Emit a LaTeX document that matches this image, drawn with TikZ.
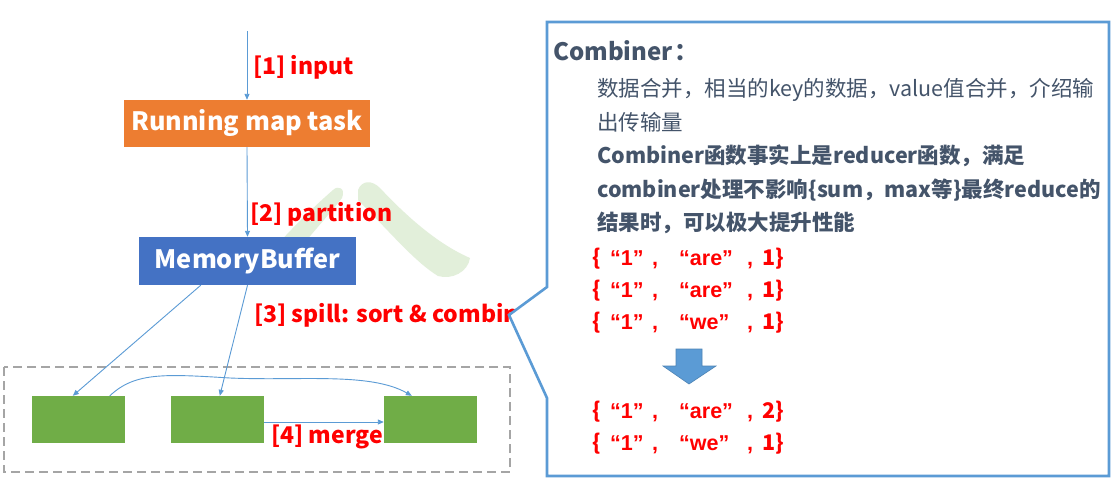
\documentclass[tikz,border=0pt]{standalone}
\usepackage{fontspec}
\setmainfont{Noto Sans CJK SC}
\newfontfamily\latf{Liberation Sans}
\usetikzlibrary{arrows.meta}
\definecolor{cblue}{HTML}{5B9BD5}
\definecolor{corange}{HTML}{ED7D31}
\definecolor{cdblue}{HTML}{4472C4}
\definecolor{cgreen}{HTML}{70AD47}
\definecolor{cwater}{HTML}{E2EFDA}
\definecolor{cgray}{HTML}{A5A5A5}
\definecolor{cslate}{HTML}{44546A}
\definecolor{cred}{HTML}{FF0000}
\newcommand{\myrow}[2]{\makebox[18pt][l]{\{}\makebox[42pt][l]{{\latf\bfseries “1”}}\makebox[27pt][l]{{\latf\bfseries ,}}\makebox[68pt][l]{{\latf\bfseries “#1”}}\makebox[15pt][l]{{\latf\bfseries ,}}#2\}}
\begin{document}
\begin{tikzpicture}[x=1pt,y=-1pt,
  arr/.style={draw=cblue, line width=0.9pt, -{Triangle[length=6pt,width=5pt]}},
  lbl/.style={text=cred, font=\fontsize{23}{27}\selectfont\bfseries, anchor=base west, inner sep=0pt},
  bigbox/.style={inner sep=0pt, text=white, font=\fontsize{25.3}{30}\selectfont\bfseries},
  gbox/.style={fill=cgreen, inner sep=0pt, minimum width=93pt, minimum height=47pt},
  ctext/.style={text=cslate, font=\fontsize{21.5}{26}\selectfont, anchor=base west, inner sep=0pt},
  cbold/.style={ctext, font=\fontsize{21.5}{26}\selectfont\bfseries},
  rtext/.style={text=cred, font=\fontsize{21.5}{26}\selectfont\bfseries, anchor=base west, inner sep=0pt},
  callout/.style={draw=cblue, fill=white, line width=2.6pt, line join=miter}
]
\useasboundingbox (0,0) rectangle (1117,491);
\fill[white] (0,0) rectangle (1117,491);

% watermark
\fill[cwater] (333,190) .. controls (338,185) and (346,188) .. (342,198)
  .. controls (325,220) and (305,240) .. (290,262) -- (262,262)
  .. controls (285,235) and (310,210) .. cycle;
\fill[cwater] (358,190) .. controls (362,180) and (372,180) .. (380,188)
  .. controls (410,220) and (440,245) .. (470,258)
  .. controls (468,272) and (452,280) .. (438,276)
  .. controls (415,262) and (390,232) .. (358,200) -- cycle;

% left diagram
\node[bigbox, fill=corange, minimum width=246pt, minimum height=47pt] (map) at (247,123.5) {Running map task};
\node[bigbox, fill=cdblue, minimum width=217pt, minimum height=48pt] (mb) at (247.5,261) {MemoryBuffer};
\draw[cgray, line width=1.5pt, dash pattern=on 9pt off 5pt] (4,367) rectangle (510,472);
\node[gbox] (g1) at (78.5,419.5) {};
\node[gbox] (g2) at (217.5,419.5) {};
\node[gbox] (g3) at (430.5,419.5) {};

\coordinate (in) at (247,31);
\draw[arr] (in) -- (map.north);
\draw[arr] (map.south) -- (mb.north);
\draw[arr] ([xshift=62pt]mb.south west) -- ([xshift=41pt]g1.north west);
\draw[arr] (mb.south) -- ([xshift=49pt]g2.north west);
\draw[arr] ([xshift=78pt]g1.north west) .. controls (135,372) and (165,374) .. (230,378)
  .. controls (300,381) and (370,372) .. ([xshift=28pt]g3.north west);
\draw[arr] ([yshift=-2.5pt]g2.east) -- ([yshift=-2.5pt]g3.west);

\node[lbl] (l1) at (253,74) {[1] input};
\node[lbl] (l2) at (250,221) {[2] partition};
\node[lbl] (l3) at (254,322) {[3] spill: sort \& combine};
\node[lbl] (l4) at (271,443) {[4] merge};

% callout
\draw[callout] (547,22) -- (1109,22) -- (1109,476) -- (547,476) -- (547,398) -- (509,315) -- (547,287) -- cycle;

\node[cbold, font=\fontsize{24}{28}\selectfont\bfseries] (t0) at (553,60) {Combiner\kern2pt：};
\node[ctext] (t1) at (597,96) {数据合并，相当的key的数据，value值合并，介绍输};
\node[ctext] (t2) at (597,130) {出传输量};
\node[cbold] (t3) at (597,163) {Combiner函数事实上是reducer函数，满足};
\node[cbold] (t4) at (597,197) {combiner处理不影响\{sum，max等\}最终reduce的};
\node[cbold] (t5) at (597,230) {结果时，可以极大提升性能};
\node[rtext] (r1) at (592,265) {\myrow{are}{1}};
\node[rtext] (r2) at (592,297) {\myrow{are}{1}};
\node[rtext] (r3) at (592,329) {\myrow{we}{1}};
\node[rtext] (r4) at (592,418) {\myrow{are}{2}};
\node[rtext] (r5) at (592,450) {\myrow{we}{1}};

\filldraw[fill=cblue, draw=cblue!85!black, line width=0.6pt] (676,349) -- (702,349) -- (702,366) -- (716,366) -- (689,384) -- (663,366) -- (676,366) -- cycle;
\end{tikzpicture}
\end{document}
